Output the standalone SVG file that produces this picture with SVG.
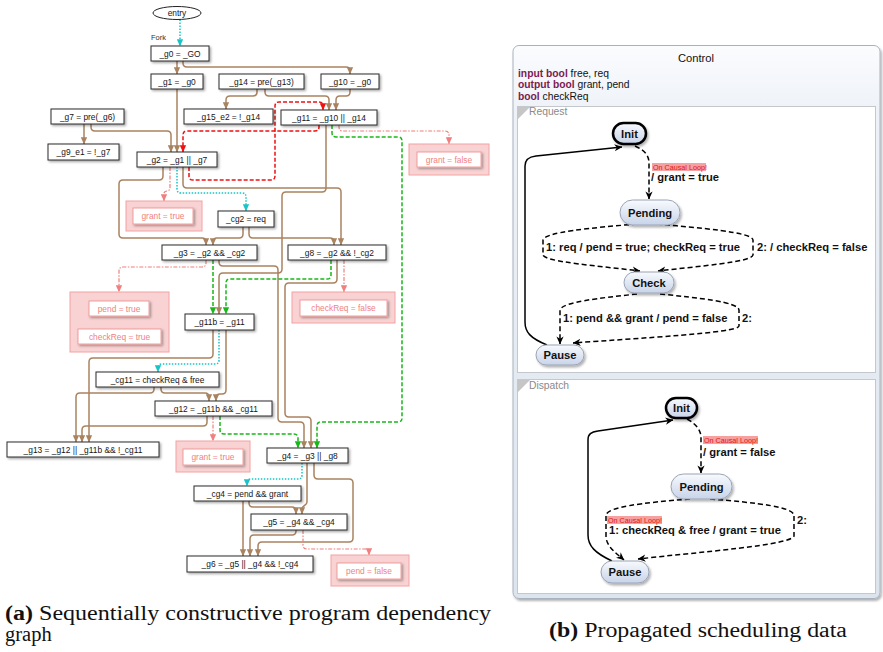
<svg xmlns="http://www.w3.org/2000/svg" width="883" height="652" viewBox="0 0 883 652">
<defs>
  <filter id="sh" x="-10%" y="-20%" width="130%" height="160%">
    <feDropShadow dx="1.5" dy="1.5" stdDeviation="0.8" flood-color="#000" flood-opacity="0.35"/>
  </filter>
  <filter id="sh2" x="-10%" y="-10%" width="130%" height="140%">
    <feDropShadow dx="1.5" dy="2" stdDeviation="1.2" flood-color="#000" flood-opacity="0.3"/>
  </filter>
  <linearGradient id="panel" x1="0" y1="0" x2="0" y2="1">
    <stop offset="0" stop-color="#fbfcfe"/>
    <stop offset="0.12" stop-color="#eef2f8"/>
    <stop offset="1" stop-color="#dce4ee"/>
  </linearGradient>
  <linearGradient id="state" x1="0" y1="0" x2="0" y2="1">
    <stop offset="0" stop-color="#f8fafd"/>
    <stop offset="1" stop-color="#c8d4ea"/>
  </linearGradient>
  <marker id="ab" viewBox="0 0 10 10" refX="9.5" refY="5" markerWidth="7" markerHeight="7" markerUnits="userSpaceOnUse" orient="auto"><path d="M0,0.5 L10,5 L0,9.5 Z" fill="#a9825f"/></marker>
  <marker id="ag" viewBox="0 0 10 10" refX="9.5" refY="5" markerWidth="7" markerHeight="7" markerUnits="userSpaceOnUse" orient="auto"><path d="M0,0.5 L10,5 L0,9.5 Z" fill="#18b818"/></marker>
  <marker id="ar" viewBox="0 0 10 10" refX="9.5" refY="5" markerWidth="7" markerHeight="7" markerUnits="userSpaceOnUse" orient="auto"><path d="M0,0.5 L10,5 L0,9.5 Z" fill="#f01010"/></marker>
  <marker id="ac" viewBox="0 0 10 10" refX="9.5" refY="5" markerWidth="7" markerHeight="7" markerUnits="userSpaceOnUse" orient="auto"><path d="M0,0.5 L10,5 L0,9.5 Z" fill="#19c4c8"/></marker>
  <marker id="ap" viewBox="0 0 10 10" refX="9.5" refY="5" markerWidth="7" markerHeight="7" markerUnits="userSpaceOnUse" orient="auto"><path d="M0,0.5 L10,5 L0,9.5 Z" fill="#f07f7f"/></marker>
  <marker id="ak" viewBox="0 0 10 10" refX="9.5" refY="5" markerWidth="8" markerHeight="8" markerUnits="userSpaceOnUse" orient="auto"><path d="M0,0.5 L10,5 L0,9.5 L3,5 Z" fill="#000"/></marker>
</defs>
<style>
  .b{fill:#fff;stroke:#2a2a2a;stroke-width:1;filter:url(#sh)}
  .t{font-family:"Liberation Sans",Arial,sans-serif;font-size:8.4px;fill:#151515;text-anchor:middle}
  .po{fill:#f9d3d3;stroke:#f3a2a2;stroke-width:1}
  .pb{fill:#fff;stroke:#f29c9c;stroke-width:1;filter:url(#sh)}
  .pt{font-family:"Liberation Sans",Arial,sans-serif;font-size:8.4px;fill:#f08282;text-anchor:middle}
  .e{fill:none;stroke-width:1.5}
  .cb{stroke:#a9825f;marker-end:url(#ab)}
  .cg{stroke:#18b818;stroke-dasharray:4 2;marker-end:url(#ag)}
  .cr{stroke:#f01010;stroke-dasharray:4 2;marker-end:url(#ar)}
  .cc{stroke:#19c4c8;stroke-dasharray:1.5 1.5;marker-end:url(#ac)}
  .cp{stroke:#f07f7f;stroke-width:1.2;stroke-dasharray:4 1.5 1.5 1.5;marker-end:url(#ap)}
  .st{fill:url(#state);stroke:#9aa4b4;stroke-width:1;filter:url(#sh2)}
  .ini{stroke:#000;stroke-width:2.5}
  .sn{font-family:"Liberation Sans",Arial,sans-serif;font-size:11.2px;font-weight:bold;fill:#111;text-anchor:middle}
  .tl{font-family:"Liberation Sans",Arial,sans-serif;font-size:11.2px;font-weight:bold;fill:#111}
  .cl{font-family:"Liberation Sans",Arial,sans-serif;font-size:7.2px;fill:#e01818}
  .clb{fill:#f6a0a0}
  .tr{fill:none;stroke:#000;stroke-width:1.5;marker-end:url(#ak)}
  .dsh{stroke-dasharray:5 3}
  .kw{font-weight:bold;fill:#7d1a52}
  .dc{font-family:"Liberation Sans",Arial,sans-serif;font-size:10.3px;fill:#111}
  .rg{fill:#fff;stroke:#c4c8cc;stroke-width:1}
  .rl{font-family:"Liberation Sans",Arial,sans-serif;font-size:10.3px;fill:#8a8a8a}
  .cap{font-family:"Liberation Serif","Times New Roman",serif;font-size:20.5px;fill:#111}
</style>

<!-- dependency graph: connectors -->
<g id="connectors">
  <path class="e cc" d="M180,19.5 L180,46"/>
  <text x="151" y="40" font-family="Liberation Sans, Arial, sans-serif" font-size="7.5" fill="#333">Fork</text>
  <path class="e cb" d="M177,61 L177,74"/>
  <path class="e cb" d="M183,61 L183,63 Q183,67 187,67 L346,67 Q350,67 350,71 L350,74"/>
  <path class="e cb" d="M177,89 L177,152"/>
  <path class="e cb" d="M91,124 L91,127 Q91,131 95,131 L167,131 Q171,131 171,135 L171,152"/>
  <path class="e cb" d="M84,124 L84,144"/>
  <path class="e cb" d="M257,89 L257,92 Q257,96 253,96 L230,96 Q226,96 226,100 L226,109"/>
  <path class="e cb" d="M265,89 L265,92 Q265,96 269,96 L325,96 Q329,96 329,100 L329,110"/>
  <path class="e cb" d="M350,89 L350,92 Q350,96 346,96 L340,96 Q336,96 336,100 L336,110"/>
  <path class="e cr" d="M319,125 L319,127 Q319,131 315,131 L187,131 Q183,131 183,135 L183,152"/>
  <path class="e cr" d="M189,167 L189,176 Q189,180 193,180 L271,180 Q275,180 275,176 L275,106 Q275,102 279,102 L319,102 Q323,102 323,106 L323,110"/>
  <path class="e cp" d="M339,125 L339,127 Q339,131 343,131 L445,131 Q449,131 449,135 L449,144"/>
  <path class="e cg" d="M332,125 L332,133 Q332,137 336,137 L398,137 Q402,137 402,141 L402,418 Q402,422 398,422 L321,422 Q317,422 317,426 L317,448"/>
  <path class="e cb" d="M326,125 L326,188 Q326,192 322,192 L286,192 Q282,192 282,196 L282,269 Q282,273 278,273 L223,273 Q219,273 219,277 L219,314"/>
  <path class="e cb" d="M219,260 L219,262 Q219,266 223,266 L274,266 Q278,266 278,270 L278,418 Q278,422 282,422 L300,422 Q304,422 304,426 L304,448"/>
  <path class="e cb" d="M337,260 L337,279 Q337,283 333,283 L289,283 Q285,283 285,287 L285,413 Q285,417 289,417 L307,417 Q311,417 311,421 L311,448"/>
  <path class="e cb" d="M163,167 L163,176 Q163,180 159,180 L123,180 Q119,180 119,184 L119,234 Q119,238 123,238 L202,238 Q206,238 206,242 L206,245"/>
  <path class="e cb" d="M243,227 L243,234 Q243,238 239,238 L217,238 Q213,238 213,242 L213,245"/>
  <path class="e cb" d="M249,227 L249,234 Q249,238 253,238 L330,238 Q334,238 334,242 L334,245"/>
  <path class="e cb" d="M183,167 L183,184 Q183,188 187,188 L337,188 Q341,188 341,192 L341,245"/>
  <path class="e cc" d="M177,167 L177,189 Q177,193 181,193 L242,193 Q246,193 246,197 L246,211"/>
  <path class="e cp" d="M170,167 L170,187 Q170,191 167,191 Q164,191 164,194 L164,201"/>
  <path class="e cp" d="M206,260 L206,263 Q206,267 202,267 L123,267 Q119,267 119,271 L119,292"/>
  <path class="e cc" d="M119,316 L119,329"/>
  <path class="e cg" d="M213,260 L213,314"/>
  <path class="e cg" d="M331,260 L331,275 Q331,279 327,279 L230,279 Q226,279 226,283 L226,314"/>
  <path class="e cp" d="M344,260 L344,292"/>
  <path class="e cb" d="M213,330 L213,354 Q213,358 209,358 L93,358 Q89,358 89,362 L89,442"/>
  <path class="e cc" d="M219,330 L219,360 Q219,364 215,364 L162,364 Q158,364 158,368 L158,372"/>
  <path class="e cb" d="M226,330 L226,390 Q226,394 222,394 L220,394 Q216,394 216,398 L216,401"/>
  <path class="e cb" d="M161,387 L161,389 Q161,393 165,393 L205,393 Q209,393 209,397 L209,401"/>
  <path class="e cb" d="M154,387 L154,389 Q154,393 150,393 L80,393 Q76,393 76,397 L76,442"/>
  <path class="e cb" d="M207,416 L207,422 Q207,426 203,426 L86,426 Q82,426 82,430 L82,442"/>
  <path class="e cp" d="M213,416 L213,441"/>
  <path class="e cg" d="M220,416 L220,430 Q220,434 224,434 L294,434 Q298,434 298,438 L298,448"/>
  <path class="e cc" d="M302,463 L302,475 Q302,479 298,479 L251,479 Q247,479 247,483 L247,486"/>
  <path class="e cb" d="M307,463 L307,502 C307,506 302,505 302,509 L302,514"/>
  <path class="e cb" d="M314,463 L314,475 Q314,479 318,479 L349,479 Q353,479 353,483 L353,538 Q353,542 349,542 L262,542 Q258,542 258,546 L258,556"/>
  <path class="e cb" d="M249,501 L249,503 Q249,507 253,507 L292,507 Q296,507 296,511 L296,514"/>
  <path class="e cb" d="M243,501 L243,556"/>
  <path class="e cb" d="M296,530 L296,531 Q296,535 292,535 L254,535 Q250,535 250,539 L250,556"/>
  <path class="e cp" d="M303,530 L303,545 Q303,549 307,549 L365,549 Q369,549 369,553 L369,555"/>
</g>

<!-- dependency graph: nodes -->
<g id="entry"><ellipse cx="177" cy="13" rx="24" ry="6.5" fill="#fff" stroke="#222" stroke-width="1"/><text class="t" x="177" y="16">entry</text></g>
<g id="g0"><rect class="b" x="151" y="46" width="58" height="15"/><text class="t" x="180" y="56.5">_g0 = _GO</text></g>
<g id="g1"><rect class="b" x="151" y="74" width="52" height="15"/><text class="t" x="177" y="84.5">_g1 = _g0</text></g>
<g id="g14"><rect class="b" x="219" y="74" width="85" height="15"/><text class="t" x="261.5" y="84.5">_g14 = pre(_g13)</text></g>
<g id="g10"><rect class="b" x="321" y="74" width="58" height="15"/><text class="t" x="350" y="84.5">_g10 = _g0</text></g>
<g id="g7"><rect class="b" x="51" y="109" width="73" height="15"/><text class="t" x="87.5" y="119.5">_g7 = pre(_g6)</text></g>
<g id="g15_e2"><rect class="b" x="184" y="109" width="89" height="15"/><text class="t" x="228.5" y="119.5">_g15_e2 = !_g14</text></g>
<g id="g11"><rect class="b" x="281" y="110" width="96" height="15"/><text class="t" x="329" y="120.5">_g11 = _g10 || _g14</text></g>
<g id="g9_e1"><rect class="b" x="48" y="144" width="71" height="16"/><text class="t" x="83.5" y="155">_g9_e1 = !_g7</text></g>
<g id="g2"><rect class="b" x="137" y="152" width="80" height="15"/><text class="t" x="177" y="162.5">_g2 = _g1 || _g7</text></g>
<g id="grant_false"><rect class="po" x="409" y="144" width="80" height="31"/><rect class="pb" x="417" y="152" width="64" height="15"/><text class="pt" x="449" y="162.5">grant = false</text></g>
<g id="grant_true_1"><rect class="po" x="126" y="201" width="76" height="30"/><rect class="pb" x="133" y="208" width="60" height="16"/><text class="pt" x="163" y="219">grant = true</text></g>
<g id="cg2"><rect class="b" x="218" y="211" width="56" height="16"/><text class="t" x="246" y="222">_cg2 = req</text></g>
<g id="g3"><rect class="b" x="162" y="245" width="95" height="15"/><text class="t" x="209.5" y="255.5">_g3 = _g2 &amp;&amp; _cg2</text></g>
<g id="g8"><rect class="b" x="288" y="245" width="98" height="15"/><text class="t" x="337" y="255.5">_g8 = _g2 &amp;&amp; !_cg2</text></g>
<g id="pend_true"><rect class="po" x="70" y="292" width="99" height="60"/><rect class="pb" x="89" y="301" width="60" height="15"/><text class="pt" x="119" y="311.5">pend = true</text><rect class="pb" x="78" y="329" width="83" height="15"/><text class="pt" x="119.5" y="339.5">checkReq = true</text></g>
<g id="checkReq_false"><rect class="po" x="292" y="292" width="103" height="31"/><rect class="pb" x="300" y="300" width="87" height="16"/><text class="pt" x="343.5" y="311">checkReq = false</text></g>
<g id="g11b"><rect class="b" x="185" y="314" width="69" height="16"/><text class="t" x="219.5" y="325">_g11b = _g11</text></g>
<g id="cg11"><rect class="b" x="96" y="372" width="123" height="15"/><text class="t" x="157.5" y="382.5">_cg11 = checkReq &amp; free</text></g>
<g id="g12"><rect class="b" x="155" y="401" width="117" height="15"/><text class="t" x="213.5" y="411.5">_g12 = _g11b &amp;&amp; _cg11</text></g>
<g id="g13"><rect class="b" x="7" y="442" width="152" height="15"/><text class="t" x="83" y="452.5">_g13 = _g12 || _g11b &amp;&amp; !_cg11</text></g>
<g id="grant_true_2"><rect class="po" x="176" y="441" width="74" height="31"/><rect class="pb" x="183" y="449" width="60" height="16"/><text class="pt" x="213" y="460">grant = true</text></g>
<g id="g4"><rect class="b" x="267" y="448" width="81" height="15"/><text class="t" x="307.5" y="458.5">_g4 = _g3 || _g8</text></g>
<g id="cg4"><rect class="b" x="194" y="486" width="107" height="15"/><text class="t" x="247.5" y="496.5">_cg4 = pend &amp;&amp; grant</text></g>
<g id="g5"><rect class="b" x="251" y="514" width="96" height="16"/><text class="t" x="299" y="525">_g5 = _g4 &amp;&amp; _cg4</text></g>
<g id="g6"><rect class="b" x="187" y="556" width="126" height="16"/><text class="t" x="250" y="567">_g6 = _g5 || _g4 &amp;&amp; !_cg4</text></g>
<g id="pend_false"><rect class="po" x="331" y="555" width="78" height="31"/><rect class="pb" x="337" y="563" width="64" height="16"/><text class="pt" x="369" y="574">pend = false</text></g>

<!-- statechart: Control -->
<g id="control">
  <rect x="513" y="45.5" width="367" height="553" rx="6" fill="url(#panel)" stroke="#aab2be" stroke-width="1" filter="url(#sh2)"/>
  <text x="696" y="62" font-family="Liberation Sans, Arial, sans-serif" font-size="11.2" fill="#111" text-anchor="middle">Control</text>
  <text class="dc" x="518" y="77"><tspan class="kw">input bool</tspan> free, req</text>
  <text class="dc" x="518" y="88"><tspan class="kw">output bool</tspan> grant, pend</text>
  <text class="dc" x="518" y="99.5"><tspan class="kw">bool</tspan> checkReq</text>
  <rect class="rg" x="517.5" y="106.5" width="358" height="266"/>
  <polygon points="518,107 530,107 518,119" fill="#c6c6c6"/>
  <text class="rl" x="529" y="115">Request</text>
  <rect class="rg" x="517.5" y="379.5" width="358" height="214"/>
  <polygon points="518,380 530,380 518,392" fill="#c6c6c6"/>
  <text class="rl" x="529" y="389">Dispatch</text>
</g>

<!-- Request region transitions -->
<g id="request-transitions">
  <path class="tr dsh" d="M635,146 C644,150 649,155 649,163 L649,199"/>
  <rect class="clb" x="652" y="163" width="54" height="8"/>
  <text class="cl" x="653" y="169.5">On Causal Loop!</text>
  <text class="tl" x="651" y="181">/ grant = true</text>
  <path class="tr dsh" d="M637,224 C590,228 545,232 543,240 L543,255 C545,262 600,266 640,271"/>
  <text class="tl" x="546" y="251">1: req / pend = true; checkReq = true</text>
  <path class="tr dsh" d="M657,224 C700,228 752,232 753,240 L753,255 C752,262 700,266 658,271"/>
  <text class="tl" x="757" y="251">2: / checkReq = false</text>
  <path class="tr dsh" d="M637,294 C600,298 562,302 560,310 L560,344"/>
  <text class="tl" x="563" y="321.5">1: pend &amp;&amp; grant / pend = false</text>
  <path class="tr dsh" d="M660,294 C700,298 738,302 739,310 L739,326 C738,333 640,338 573,343"/>
  <text class="tl" x="742" y="321.5">2:</text>
  <path class="tr" d="M547,345 C530,338 525,332 525,322 L525,166 C525,160 528,157 536,156 L622,147"/>
</g>

<!-- Request region states -->
<g id="req-init"><rect class="st ini" x="613" y="123" width="33" height="21" rx="10.5"/><text class="sn" x="629.5" y="137.5">Init</text></g>
<g id="req-pending"><rect class="st" x="620" y="200" width="60" height="25" rx="12.5"/><text class="sn" x="650" y="216.5">Pending</text></g>
<g id="req-check"><rect class="st" x="624" y="272" width="50" height="21" rx="10.5"/><text class="sn" x="649" y="286.5">Check</text></g>
<g id="req-pause"><rect class="st" x="536" y="345" width="48" height="20" rx="10"/><text class="sn" x="560" y="359">Pause</text></g>

<!-- Dispatch region transitions -->
<g id="dispatch-transitions">
  <path class="tr dsh" d="M687,419 C696,424 701,430 701,438 L701,473"/>
  <rect class="clb" x="703" y="436" width="55" height="8"/>
  <text class="cl" x="704" y="442.5">On Causal Loop!</text>
  <text class="tl" x="703" y="456">/ grant = false</text>
  <path class="tr dsh" d="M690,499 C640,503 608,507 606,515 L606,538 C608,548 616,553 624,560"/>
  <rect class="clb" x="607" y="516" width="55" height="8"/>
  <text class="cl" x="608" y="522.5">On Causal Loop!</text>
  <text class="tl" x="609" y="533.5">1: checkReq &amp; free / grant = true</text>
  <path class="tr dsh" d="M710,499 C760,503 792,507 794,515 L794,536 C792,545 700,552 638,559"/>
  <text class="tl" x="797" y="524">2:</text>
  <path class="tr" d="M612,561 C595,553 588,546 588,535 L588,440 C588,434 591,432 598,431 L673,420"/>
</g>

<!-- Dispatch region states -->
<g id="dis-init"><rect class="st ini" x="666" y="398" width="31" height="20" rx="10"/><text class="sn" x="681.5" y="412">Init</text></g>
<g id="dis-pending"><rect class="st" x="671" y="474" width="61" height="25" rx="12.5"/><text class="sn" x="701.5" y="490.5">Pending</text></g>
<g id="dis-pause"><rect class="st" x="601" y="561" width="48" height="22" rx="11"/><text class="sn" x="625" y="576">Pause</text></g>

<!-- captions -->
<g id="captions">
  <text class="cap" x="5" y="620" textLength="486" lengthAdjust="spacingAndGlyphs"><tspan font-weight="bold">(a)</tspan> Sequentially constructive program dependency</text>
  <text class="cap" x="5" y="641">graph</text>
  <text class="cap" x="549" y="637" textLength="298" lengthAdjust="spacingAndGlyphs"><tspan font-weight="bold">(b)</tspan> Propagated scheduling data</text>
</g>
</svg>
